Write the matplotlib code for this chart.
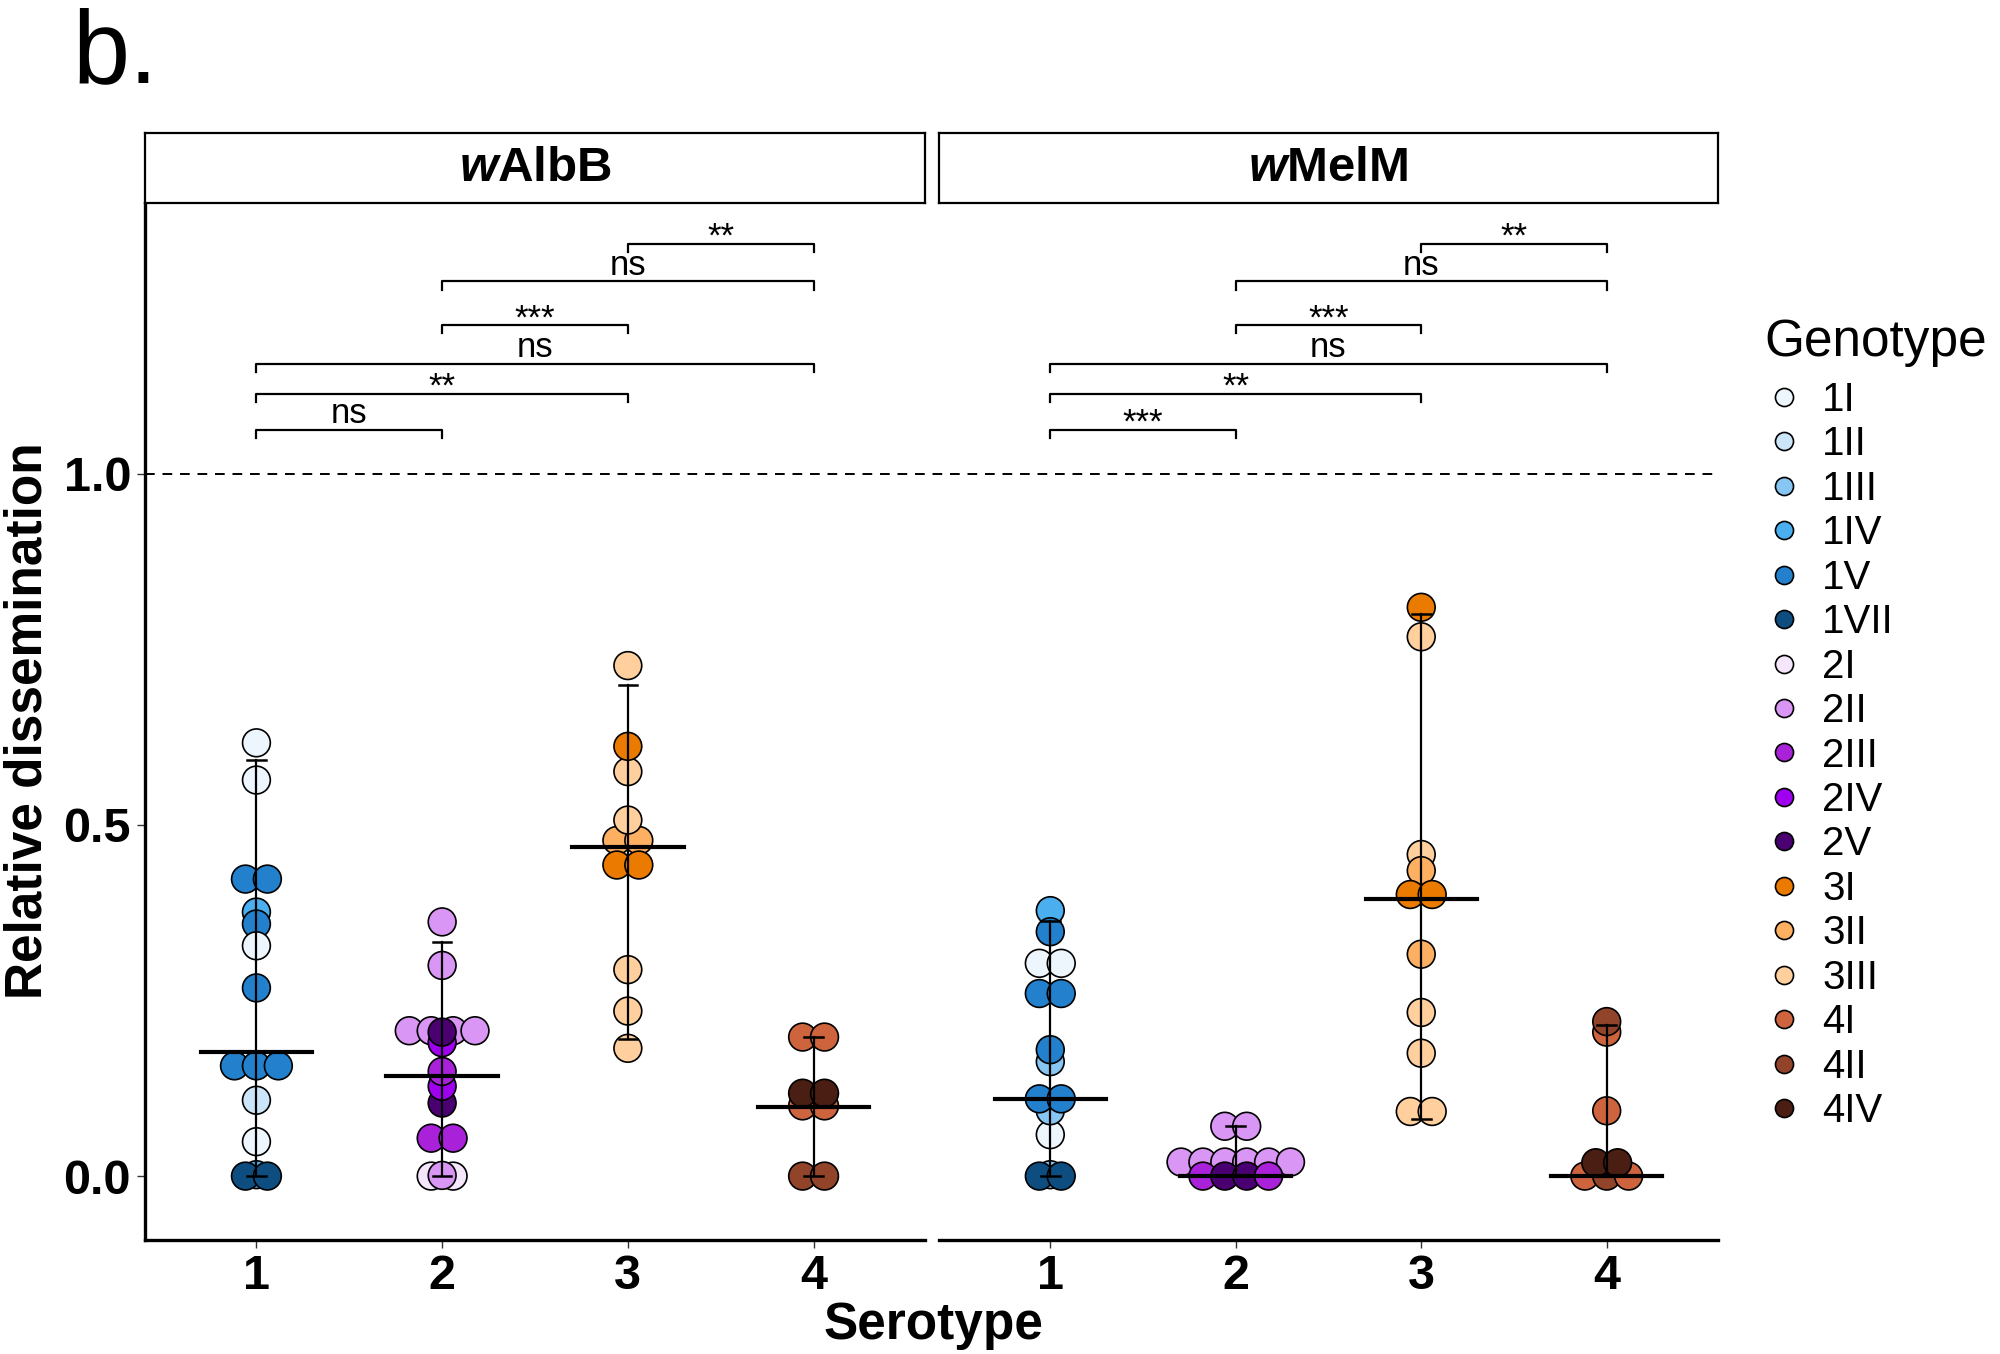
import matplotlib
matplotlib.use("Agg")
import matplotlib.pyplot as plt
from matplotlib.lines import Line2D
from matplotlib.transforms import blended_transform_factory

plt.rcParams['font.family'] = ['Liberation Sans', 'DejaVu Sans']
plt.rcParams['mathtext.fontset'] = 'custom'
plt.rcParams['mathtext.it'] = 'Liberation Sans:italic:bold'
plt.rcParams['mathtext.rm'] = 'Liberation Sans:bold'

# genotype palette
genotypes = ['1I', '1II', '1III', '1IV', '1V', '1VII', '2I', '2II', '2III',
             '2IV', '2V', '3I', '3II', '3III', '4I', '4II', '4IV']
genotype_colors = ['#EEF6FD', '#CCE6F9', '#87C6F2', '#4AAEEF', '#2380CC',
                   '#0D4D80', '#F5E6FB', '#DA96F5', '#A922DA', '#A000F0',
                   '#4A0070', '#EB7A00', '#FDB062', '#FFD09E', '#CE643E',
                   '#92442A', '#4A1E12']

serotypes = [1, 2, 3, 4]

# wAlbB points (drawing order)
walbb_serotype = [1, 1, 1, 1, 1, 1, 1, 1, 1, 1, 1, 1, 1, 1, 1, 1,
                  2, 2, 2, 2, 2, 2, 2, 2, 2, 2, 2, 2, 2, 2, 2, 2,
                  3, 3, 3, 3, 3, 3, 3, 3, 3, 3, 3,
                  4, 4, 4, 4, 4, 4, 4, 4]
walbb_genotype = ['1IV', '1VII', '1VII', '1I', '1I', '1V', '1V', '1IV', '1V',
                  '1I', '1V', '1V', '1V', '1V', '1II', '1I',
                  '2I', '2I', '2II', '2III', '2III', '2V', '2IV', '2III',
                  '2II', '2II', '2II', '2II', '2IV', '2V', '2II', '2II',
                  '3III', '3III', '3III', '3II', '3II', '3III', '3I', '3I',
                  '3III', '3I', '3III',
                  '4II', '4II', '4I', '4I', '4IV', '4IV', '4I', '4I']
walbb_value = [0.002, 0.0, 0.0, 0.617, 0.564, 0.423, 0.423, 0.376, 0.359,
               0.328, 0.268, 0.157, 0.157, 0.157, 0.108, 0.049,
               0.0, 0.0, 0.001, 0.054, 0.054, 0.104, 0.128, 0.149,
               0.207, 0.207, 0.207, 0.207, 0.19, 0.205, 0.300, 0.362,
               0.182, 0.235, 0.294, 0.478, 0.478, 0.507, 0.443, 0.443,
               0.576, 0.612, 0.727,
               0.0, 0.0, 0.10, 0.10, 0.118, 0.118, 0.198, 0.198]

# wMelM points (drawing order)
wmelm_serotype = [1, 1, 1, 1, 1, 1, 1, 1, 1, 1, 1, 1, 1, 1, 1,
                  2, 2, 2, 2, 2, 2, 2, 2, 2, 2, 2, 2,
                  3, 3, 3, 3, 3, 3, 3, 3, 3, 3, 3,
                  4, 4, 4, 4, 4, 4, 4, 4]
wmelm_genotype = ['1III', '1VII', '1VII', '1I', '1III', '1V', '1V', '1III',
                  '1V', '1V', '1V', '1I', '1I', '1IV', '1V',
                  '2II', '2II', '2II', '2II', '2II', '2II',
                  '2III', '2V', '2V', '2III', '2II', '2II',
                  '3III', '3III', '3III', '3III', '3II', '3III', '3II',
                  '3I', '3I', '3III', '3I',
                  '4I', '4II', '4I', '4IV', '4IV', '4I', '4I', '4II']
wmelm_value = [0.002, 0.0, 0.0, 0.059, 0.093, 0.110, 0.110, 0.163,
               0.180, 0.26, 0.26, 0.303, 0.303, 0.378, 0.348,
               0.02, 0.02, 0.02, 0.02, 0.02, 0.02,
               0.0, 0.0, 0.0, 0.0, 0.071, 0.071,
               0.092, 0.092, 0.175, 0.233, 0.316, 0.458, 0.435,
               0.401, 0.401, 0.768, 0.81,
               0.0, 0.0, 0.0, 0.019, 0.019, 0.093, 0.205, 0.22]

# summary lines: centre, lower and upper whisker per serotype
walbb_mid = [0.177, 0.143, 0.468, 0.098]
walbb_lo = [0.0, 0.0, 0.195, 0.0]
walbb_hi = [0.593, 0.333, 0.699, 0.198]
wmelm_mid = [0.110, 0.0, 0.394, 0.0]
wmelm_lo = [0.0, 0.0, 0.082, 0.0]
wmelm_hi = [0.363, 0.072, 0.80, 0.215]

# pairwise comparisons
comparisons = [(1, 2), (1, 3), (1, 4), (2, 3), (2, 4), (3, 4)]
bracket_y = [1.063, 1.114, 1.157, 1.212, 1.274, 1.328]
walbb_labels = ['ns', '**', 'ns', '***', 'ns', '**']
wmelm_labels = ['***', '**', 'ns', '***', 'ns', '**']

reference_level = 1.0

color_of = dict(zip(genotypes, genotype_colors))


def stack_offsets(sero, vals, step=0.118):
    """Centre points sharing a serotype and value side by side."""
    groups = {}
    for i, key in enumerate(zip(sero, vals)):
        groups.setdefault(key, []).append(i)
    off = [0.0] * len(vals)
    for idx in groups.values():
        n = len(idx)
        for k, i in enumerate(idx):
            off[i] = (k - (n - 1) / 2) * step
    return off


def draw_panel(ax, sero, geno, vals, mid, lo, hi, labels):
    off = stack_offsets(sero, vals)
    xs = [s + o for s, o in zip(sero, off)]
    ax.scatter(xs, vals, s=400, c=[color_of[g] for g in geno],
               edgecolors='black', linewidths=1.2, zorder=2)
    for s, m, l, h in zip(serotypes, mid, lo, hi):
        ax.plot([s, s], [l, h], color='black', lw=1.6, zorder=3)
        ax.plot([s - 0.05, s + 0.05], [l, l], color='black', lw=1.8, zorder=3)
        ax.plot([s - 0.05, s + 0.05], [h, h], color='black', lw=1.8, zorder=3)
        ax.plot([s - 0.3, s + 0.3], [m, m], color='black', lw=3.0, zorder=4)
    for (a, b), y, lab in zip(comparisons, bracket_y, labels):
        ax.plot([a, a, b, b], [y - 0.012, y, y, y - 0.012], color='black', lw=1.6)
        if lab == 'ns':
            ax.text((a + b) / 2, y + 0.009, lab, ha='center', va='baseline',
                    fontsize=25)
        else:
            ax.text((a + b) / 2, y + 0.009, lab, ha='center', va='center',
                    fontsize=25)
    ax.set_xlim(0.4, 4.6)
    ax.set_ylim(-0.091, 1.386)
    ax.set_xticks(serotypes)
    ax.set_xticklabels([str(s) for s in serotypes], fontsize=35, fontweight='bold')
    for side in ['top', 'right']:
        ax.spines[side].set_visible(False)
    ax.spines['bottom'].set_linewidth(2.4)
    ax.spines['left'].set_linewidth(2.4)
    ax.tick_params(axis='both', length=6, width=1.0, color='#333333', pad=4)


fig = plt.figure(figsize=(20, 13.54), dpi=100)
ax1 = fig.add_axes([0.0725, 0.0842, 0.39, 0.766])
ax2 = fig.add_axes([0.4695, 0.0842, 0.3895, 0.766])

draw_panel(ax1, walbb_serotype, walbb_genotype, walbb_value,
           walbb_mid, walbb_lo, walbb_hi, walbb_labels)
draw_panel(ax2, wmelm_serotype, wmelm_genotype, wmelm_value,
           wmelm_mid, wmelm_lo, wmelm_hi, wmelm_labels)

ax1.set_yticks([0.0, 0.5, 1.0])
ax1.set_yticklabels(['0.0', '0.5', '1.0'], fontsize=35, fontweight='bold')
ax2.spines['left'].set_visible(False)
ax2.set_yticks([])

# dashed reference line running across both panels
trans = blended_transform_factory(fig.transFigure, ax1.transData)
x_left = ax1.get_position().x0
x_right = ax2.get_position().x1
fig.add_artist(Line2D([x_left, x_right], [reference_level, reference_level],
                      transform=trans, color='black', lw=1.4, ls=(0, (5, 4))))

# facet strips
for ax, title in [(ax1, r'$\mathit{w}$AlbB'), (ax2, r'$\mathit{w}$MelM')]:
    pos = ax.get_position()
    sax = fig.add_axes([pos.x0, 0.850, pos.width, 0.0517])
    sax.set_xticks([])
    sax.set_yticks([])
    for sp in sax.spines.values():
        sp.set_linewidth(1.6)
    sax.text(0.5, 0.5, title, ha='center', va='center', fontsize=35.5,
             fontweight='bold', transform=sax.transAxes)

fig.text(0.4665, 0.003, 'Serotype', ha='center', va='bottom', fontsize=37,
         fontweight='bold')
fig.text(0.0015, 0.4675, 'Relative dissemination', ha='left', va='center',
         rotation=90, fontsize=37, fontweight='bold')
fig.text(0.036, 0.9586, 'b.', ha='left', va='center', fontsize=74)

# legend
fig.text(0.882, 0.7474, 'Genotype', ha='left', va='center', fontsize=37)
handles = [Line2D([], [], marker='o', ls='', markerfacecolor=c,
                  markeredgecolor='black', markersize=13, markeredgewidth=1.2)
           for c in genotype_colors]
leg = fig.legend(handles, genotypes, loc='upper left',
                 bbox_to_anchor=(0.882, 0.7186), frameon=False,
                 fontsize=29, labelspacing=0.16, handletextpad=0.44,
                 handlelength=1.0, borderpad=0, borderaxespad=0)

fig.savefig('out.png', dpi=100)
